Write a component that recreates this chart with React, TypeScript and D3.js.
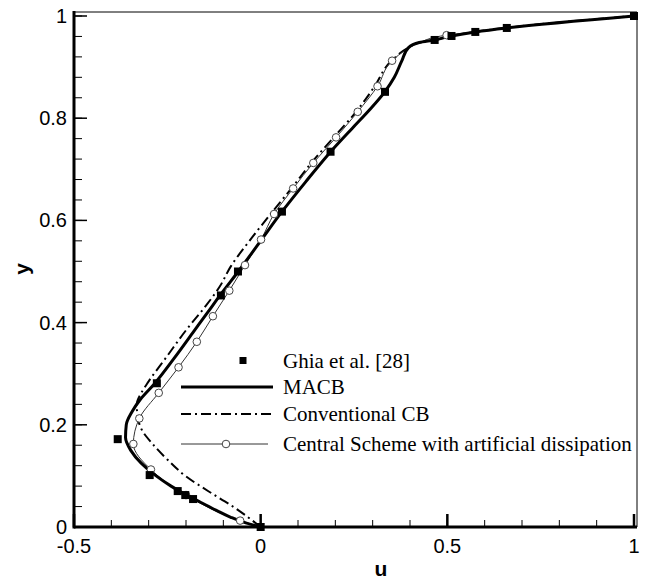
import React, { useRef, useEffect } from 'react';
import * as d3 from 'd3';

// Ghia et al. reference data (u, y)
const ghia: [number, number][] = [
  [0, 0], [-0.18109, 0.0547], [-0.20196, 0.0625], [-0.2222, 0.0703], [-0.2973, 0.1016],
  [-0.38289, 0.1719], [-0.27805, 0.2813], [-0.10648, 0.4531], [-0.0608, 0.5],
  [0.05702, 0.6172], [0.18719, 0.7344], [0.33304, 0.8516], [0.46604, 0.9531],
  [0.51117, 0.9609], [0.57492, 0.9688], [0.65928, 0.9766], [1, 1],
];

const macb: [number, number][] = [
  [0, 0], [-0.04, 0.008], [-0.08, 0.019], [-0.12, 0.033], [-0.16, 0.048], [-0.2, 0.063],
  [-0.24, 0.08], [-0.28, 0.1], [-0.32, 0.125], [-0.348, 0.15], [-0.362, 0.175], [-0.36, 0.2],
  [-0.345, 0.225], [-0.322, 0.25], [-0.285, 0.28], [-0.232, 0.33], [-0.182, 0.38],
  [-0.142, 0.42], [-0.102, 0.46], [-0.06, 0.5], [0, 0.56], [0.057, 0.617], [0.12, 0.675],
  [0.187, 0.734], [0.245, 0.78], [0.29, 0.815], [0.333, 0.852], [0.358, 0.88], [0.378, 0.912],
  [0.396, 0.938], [0.425, 0.948], [0.466, 0.9531], [0.511, 0.9609], [0.575, 0.9688],
  [0.659, 0.9766], [1, 1],
];

const conventional: [number, number][] = [
  [0, 0], [-0.07, 0.038], [-0.14, 0.07], [-0.2, 0.099], [-0.25, 0.132], [-0.29, 0.163],
  [-0.315, 0.186], [-0.328, 0.21], [-0.332, 0.24], [-0.32, 0.262], [-0.3, 0.285],
  [-0.25, 0.335], [-0.2, 0.385], [-0.15, 0.43], [-0.11, 0.47], [-0.08, 0.51], [-0.03, 0.56],
  [0.035, 0.62], [0.085, 0.665], [0.135, 0.712], [0.195, 0.762], [0.255, 0.812],
  [0.305, 0.862], [0.35, 0.912], [0.396, 0.938], [0.425, 0.948], [0.466, 0.953],
  [0.511, 0.961], [0.575, 0.969], [0.659, 0.977], [1, 1],
];

// central scheme: [u, y, has marker]
const central: [number, number, boolean][] = [
  [0, 0, false], [-0.055, 0.0125, true], [-0.2, 0.0625, true], [-0.294, 0.1125, true],
  [-0.341, 0.1625, true], [-0.325, 0.2125, true], [-0.273, 0.2625, true], [-0.22, 0.3125, true],
  [-0.171, 0.3625, true], [-0.128, 0.4125, true], [-0.084, 0.4625, true], [-0.042, 0.5125, true],
  [0.001, 0.5625, true], [0.036, 0.6125, true], [0.087, 0.6625, true], [0.141, 0.7125, true],
  [0.202, 0.7625, true], [0.26, 0.8125, true], [0.313, 0.8625, true], [0.352, 0.9125, true],
  [0.392, 0.935, false], [0.425, 0.948, false], [0.498, 0.9625, true], [0.575, 0.969, false],
  [0.659, 0.977, false], [1, 1, false],
];

const xTickLabels = [-0.5, 0, 0.5, 1];
const yTickLabels = [0, 0.2, 0.4, 0.6, 0.8, 1];
const legendLabels = ['Ghia et al. [28]', 'MACB', 'Conventional CB', 'Central Scheme with artificial dissipation'];

const W = 651;
const H = 579;

const Chart = () => {
  const svgRef = useRef<SVGSVGElement>(null);

  useEffect(() => {
    const svg = d3.select(svgRef.current);
    svg.selectAll('*').remove();

    const left = 74, right = 637, top = 12, bottom = 527;
    const x = d3.scaleLinear().domain([-0.5, 1]).range([left, 634]);
    const y = d3.scaleLinear().domain([0, 1]).range([bottom, 16]);

    const sans = 'Liberation Sans, Arial, sans-serif';
    const serif = 'Liberation Serif, Times New Roman, serif';

    // thin frame top/right
    svg.append('line').attr('x1', left).attr('x2', right).attr('y1', top).attr('y2', top)
      .attr('stroke', '#000').attr('stroke-width', 1);
    svg.append('line').attr('x1', right).attr('x2', right).attr('y1', top).attr('y2', bottom)
      .attr('stroke', '#000').attr('stroke-width', 1);

    // minor ticks
    const xMinor = x.ticks(15);
    svg.selectAll('line.xminor').data(xMinor).join('line')
      .attr('x1', d => x(d)).attr('x2', d => x(d)).attr('y1', bottom).attr('y2', bottom - 7)
      .attr('stroke', '#000').attr('stroke-width', 1);
    const yMinor = d3.range(0, 1.0001, 0.04);
    svg.selectAll('line.yminor').data(yMinor).join('line')
      .attr('x1', left).attr('x2', left + 8).attr('y1', d => y(d)).attr('y2', d => y(d))
      .attr('stroke', '#000').attr('stroke-width', 1);

    // major ticks
    svg.selectAll('line.xmajor').data(xTickLabels).join('line')
      .attr('x1', d => x(d)).attr('x2', d => x(d)).attr('y1', bottom).attr('y2', bottom - 13)
      .attr('stroke', '#000').attr('stroke-width', 2.5);
    svg.selectAll('line.ymajor').data(yTickLabels).join('line')
      .attr('x1', left).attr('x2', left + 13).attr('y1', d => y(d)).attr('y2', d => y(d))
      .attr('stroke', '#000').attr('stroke-width', 1.5);

    // thick left & bottom axes
    svg.append('line').attr('x1', left).attr('x2', left).attr('y1', top - 1).attr('y2', bottom + 1.5)
      .attr('stroke', '#000').attr('stroke-width', 3);
    svg.append('line').attr('x1', left).attr('x2', right).attr('y1', bottom).attr('y2', bottom)
      .attr('stroke', '#000').attr('stroke-width', 3);

    // tick labels
    svg.selectAll('text.xl').data(xTickLabels).join('text')
      .attr('x', d => x(d)).attr('y', 553).attr('text-anchor', 'middle')
      .attr('font-family', sans).attr('font-size', 20).text(d => String(d));
    svg.selectAll('text.yl').data(yTickLabels).join('text')
      .attr('x', 67).attr('y', d => y(d) + 7).attr('text-anchor', 'end')
      .attr('font-family', sans).attr('font-size', 20).text(d => String(d));

    // axis titles
    svg.append('text').attr('x', 381).attr('y', 576).attr('text-anchor', 'middle')
      .attr('font-family', sans).attr('font-size', 21).attr('font-weight', 'bold').text('u');
    svg.append('text').attr('transform', 'translate(29,269) rotate(-90)').attr('text-anchor', 'middle')
      .attr('font-family', sans).attr('font-size', 21).attr('font-weight', 'bold').text('y');

    const line = d3.line<[number, number] | [number, number, boolean]>()
      .x(d => x(d[0])).y(d => y(d[1])).curve(d3.curveMonotoneY);

    // curves
    svg.append('path').attr('d', line(conventional)).attr('fill', 'none')
      .attr('stroke', '#000').attr('stroke-width', 2).attr('stroke-dasharray', '10,4,2,4');
    svg.append('path').attr('d', line(central)).attr('fill', 'none')
      .attr('stroke', '#333').attr('stroke-width', 1);
    svg.append('path').attr('d', line(macb)).attr('fill', 'none')
      .attr('stroke', '#000').attr('stroke-width', 3);

    svg.selectAll('circle.cs').data(central.filter(d => d[2])).join('circle')
      .attr('cx', d => x(d[0])).attr('cy', d => y(d[1])).attr('r', 3.8)
      .attr('fill', '#fff').attr('stroke', '#444').attr('stroke-width', 1);

    svg.selectAll('rect.ghia').data(ghia).join('rect')
      .attr('x', d => x(d[0]) - 4).attr('y', d => y(d[1]) - 4).attr('width', 8).attr('height', 8)
      .attr('fill', '#000');

    // legend
    const rowY = [360.5, 387, 414, 444];
    const lx1 = 181, lx2 = 273, tx = 283;
    const lg = svg.append('g');
    lg.append('rect').attr('x', 243 - 3.5).attr('y', rowY[0] - 3.5).attr('width', 7).attr('height', 7).attr('fill', '#000');
    lg.append('line').attr('x1', lx1).attr('x2', lx2).attr('y1', rowY[1]).attr('y2', rowY[1])
      .attr('stroke', '#000').attr('stroke-width', 3);
    lg.append('line').attr('x1', lx1).attr('x2', lx2).attr('y1', rowY[2]).attr('y2', rowY[2])
      .attr('stroke', '#000').attr('stroke-width', 2).attr('stroke-dasharray', '10,4,2,4');
    lg.append('line').attr('x1', lx1).attr('x2', 268).attr('y1', rowY[3]).attr('y2', rowY[3])
      .attr('stroke', '#333').attr('stroke-width', 1);
    lg.append('circle').attr('cx', 226).attr('cy', rowY[3]).attr('r', 3.8)
      .attr('fill', '#fff').attr('stroke', '#444').attr('stroke-width', 1);
    lg.selectAll('text').data(legendLabels).join('text')
      .attr('x', tx).attr('y', (d, i) => rowY[i] + 7)
      .attr('font-family', serif).attr('font-size', 21).text(d => d);
  }, []);

  return <svg ref={svgRef} width={W} height={H} style={{ position: 'absolute', left: 0, top: 0, background: '#fff' }} />;
};

export default function App() {
  return <Chart />;
}
